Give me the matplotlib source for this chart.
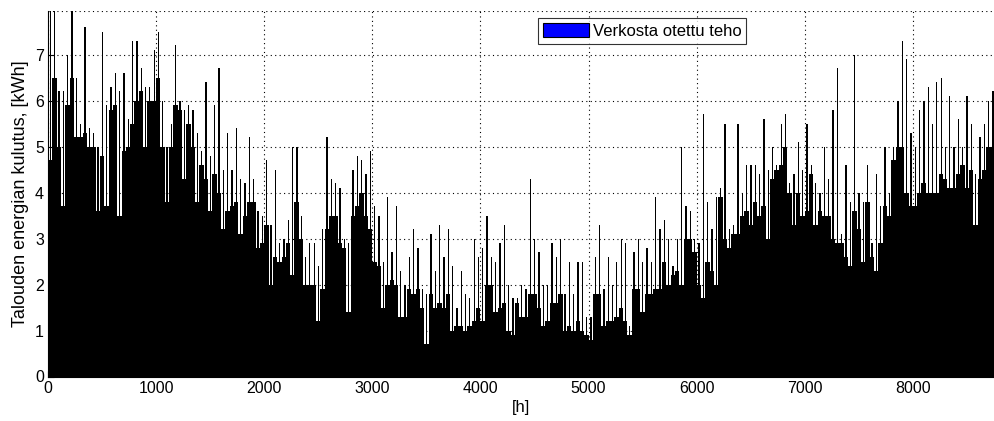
import numpy as np
import matplotlib
matplotlib.use('Agg')
import matplotlib.pyplot as plt
from matplotlib.patches import Patch

# Tuntikulutus luettu kuvasta 40 h jaksoina: "pohja" = jakson tasainen taso,
# "huiput" = jakson korkein piikki. [kWh]
jakso_h = 40
pohja = [
    4.7, 6.5, 5.0, 3.7, 5.9, 6.5, 5.2, 5.2, 5.3, 5.0,
    5.0, 3.6, 4.8, 3.7, 5.8, 5.9, 3.5, 4.9, 5.0, 5.5,
    6.0, 6.2, 5.0, 6.0, 6.0, 6.5, 5.0, 3.8, 5.0, 5.9,
    5.8, 4.3, 5.5, 5.0, 3.8, 4.6, 4.3, 3.6, 4.4, 4.0,
    3.2, 3.6, 3.7, 3.8, 3.1, 3.5, 3.8, 3.8, 2.8, 2.9,
    3.3, 2.0, 2.6, 2.5, 2.6, 2.9, 2.2, 3.8, 3.0, 2.0,
    2.0, 2.0, 1.2, 1.9, 3.2, 3.5, 3.5, 2.9, 2.8, 1.4,
    3.5, 3.7, 4.0, 3.5, 3.2, 2.5, 2.4, 1.5, 2.0, 2.1,
    2.0, 1.3, 1.3, 1.9, 1.8, 1.9, 1.5, 0.7, 1.8, 1.5,
    1.6, 1.5, 1.8, 1.0, 1.1, 1.1, 1.0, 1.1, 1.2, 1.5,
    1.2, 2.0, 2.0, 1.4, 1.5, 1.6, 1.0, 0.9, 1.6, 1.3,
    1.3, 1.8, 1.8, 1.5, 1.1, 1.2, 1.6, 1.6, 1.8, 1.0,
    1.1, 1.0, 1.2, 1.0, 0.9, 0.8, 1.8, 1.8, 1.1, 1.2,
    1.2, 1.3, 1.5, 1.2, 0.9, 1.9, 1.9, 1.4, 1.8, 1.8,
    1.9, 1.9, 2.5, 2.0, 2.2, 2.3, 2.0, 3.0, 3.0, 2.7,
    2.0, 1.7, 2.5, 2.3, 2.0, 3.9, 3.0, 2.8, 3.1, 3.1,
    3.5, 3.6, 3.3, 3.8, 3.5, 3.7, 3.0, 4.3, 4.5, 4.6,
    5.0, 4.0, 3.3, 4.0, 3.5, 3.6, 4.4, 3.3, 3.6, 3.5,
    3.5, 3.0, 2.9, 2.9, 2.6, 2.4, 3.6, 3.2, 2.5, 3.8,
    2.6, 2.3, 2.9, 3.7, 3.5, 4.7, 5.0, 5.0, 4.0, 3.7,
    3.7, 4.0, 4.2, 4.0, 4.0, 4.0, 4.4, 4.3, 4.1, 4.1,
    4.4, 4.6, 4.1, 4.5, 3.3, 4.3, 4.5, 5.0, 5.0,
]
huiput = [
    7.95, 7.95, 6.2, 6.2, 7.0, 7.95, 6.5, 5.5, 7.6, 5.4,
    5.3, 5.0, 7.5, 5.9, 6.3, 6.6, 6.2, 6.6, 5.6, 7.3,
    7.3, 6.7, 6.3, 6.3, 7.1, 7.5, 6.0, 5.0, 5.5, 7.2,
    6.0, 5.8, 5.9, 5.8, 5.3, 4.9, 6.4, 4.8, 5.9, 6.7,
    4.5, 5.3, 4.5, 5.4, 4.3, 4.2, 5.2, 4.3, 3.6, 3.5,
    4.7, 3.3, 4.5, 2.9, 3.0, 3.4, 5.0, 5.0, 3.5, 2.6,
    2.9, 2.9, 2.4, 3.2, 5.2, 4.3, 4.2, 4.1, 3.0, 2.9,
    4.5, 4.8, 4.7, 4.4, 4.9, 3.7, 3.5, 2.5, 3.9, 2.7,
    3.7, 2.3, 2.0, 2.6, 3.2, 2.8, 1.9, 1.8, 3.1, 2.3,
    3.3, 2.6, 3.2, 2.4, 1.5, 2.3, 1.8, 1.7, 3.0, 2.6,
    2.8, 3.5, 2.6, 2.5, 2.9, 3.3, 2.0, 1.7, 1.7, 2.0,
    1.9, 4.3, 3.0, 2.7, 2.0, 2.0, 2.9, 2.6, 3.0, 1.8,
    2.5, 1.8, 2.5, 2.5, 1.3, 1.3, 2.6, 3.3, 1.9, 2.6,
    2.0, 2.5, 3.0, 2.9, 1.1, 2.7, 3.0, 2.5, 2.8, 2.5,
    3.9, 3.2, 3.4, 3.0, 2.4, 3.0, 5.0, 3.7, 3.6, 3.0,
    2.9, 5.7, 3.8, 3.2, 3.9, 4.1, 5.5, 3.2, 3.3, 5.5,
    4.0, 4.6, 4.6, 4.6, 4.4, 5.6, 4.5, 5.0, 4.6, 5.5,
    5.7, 4.2, 4.4, 5.1, 4.5, 5.5, 4.6, 4.2, 4.0, 5.0,
    4.3, 5.8, 6.7, 3.1, 4.6, 3.8, 7.0, 4.0, 3.8, 4.6,
    2.9, 4.4, 3.7, 5.0, 4.0, 5.0, 6.0, 7.3, 6.9, 5.3,
    5.0, 5.8, 6.0, 6.3, 5.5, 6.4, 6.5, 5.0, 6.1, 5.0,
    5.6, 5.0, 6.1, 5.5, 4.4, 5.2, 5.5, 6.0, 6.2,
]
xtikit = [0, 1000, 2000, 3000, 4000, 5000, 6000, 7000, 8000]
ytikit = [0, 1, 2, 3, 4, 5, 6, 7]

plt.rcParams['font.family'] = ['Liberation Sans', 'DejaVu Sans']

alku = np.arange(len(pohja)) * jakso_h

fig = plt.figure(figsize=(9.95, 4.21), dpi=100)
ax = fig.add_axes([48/995, 44.5/421, 1 - 48/995, 365.5/421])

ax.bar(alku, pohja, width=jakso_h, align='edge', color='black',
       linewidth=0, antialiased=False, zorder=2)
ax.bar(alku + 0.4*jakso_h, huiput, width=0.3*jakso_h, align='edge',
       color='black', linewidth=0, antialiased=False, zorder=2)

ax.set_xlim(0, 8760)
ax.set_ylim(0, 7.95)
ax.set_xticks(xtikit)
ax.set_yticks(ytikit)
ax.tick_params(direction='in', length=4, labelsize=11.5, pad=3)
ax.grid(True, color='black', linestyle=(0, (1, 3)), linewidth=0.8, zorder=1)
ax.set_axisbelow(True)
ax.axhline(7.95, color='black', linestyle=(0, (1, 3)), linewidth=0.8, zorder=1)
ax.spines['top'].set_visible(False)
ax.spines['right'].set_visible(False)
ax.spines['left'].set_linewidth(0.8)
ax.spines['bottom'].set_linewidth(0.8)

ax.set_xlabel('[h]', fontsize=12, labelpad=3)
ax.set_ylabel('Talouden energian kulutus, [kWh]', fontsize=13, labelpad=4)

leg = ax.legend(handles=[Patch(facecolor='blue', edgecolor='black', linewidth=0.8)],
                labels=['Verkosta otettu teho'],
                loc='upper left', bbox_to_anchor=(0.517, 0.981),
                fontsize=12, frameon=True, fancybox=False,
                handlelength=2.8, handleheight=0.9, handletextpad=0.2,
                borderpad=0.3, borderaxespad=0)
leg.get_frame().set_edgecolor('black')
leg.get_frame().set_linewidth(0.8)
leg.set_zorder(5)

fig.savefig('out.png', dpi=100)
